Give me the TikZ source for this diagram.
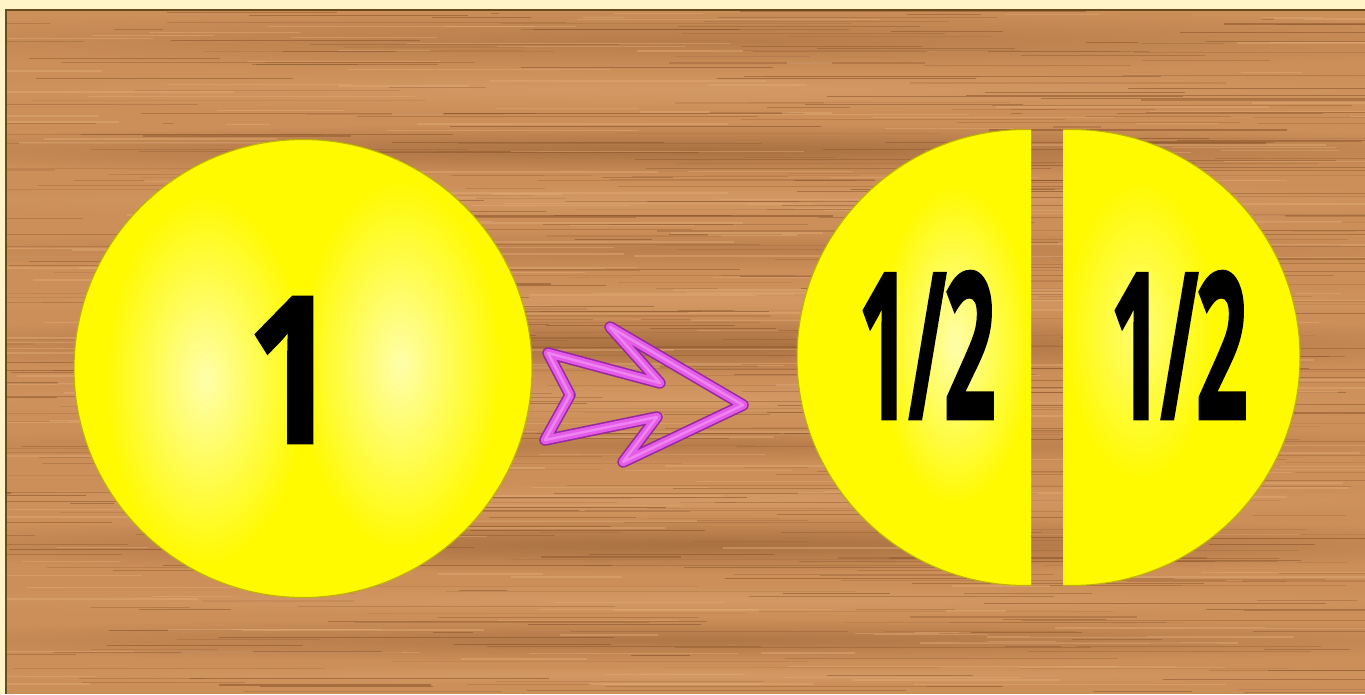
\documentclass[tikz,border=0pt]{standalone}
\usepackage{fontspec}
\setmainfont{Liberation Sans}
\newfontfamily\numfont[BoldFeatures={FakeBold=1.5}]{Open Sans}
\usetikzlibrary{fadings}
\definecolor{cream}{RGB}{255,243,200}
\definecolor{woodbase}{RGB}{204,143,90}
\definecolor{woodlight}{RGB}{226,172,120}
\definecolor{wooddark}{RGB}{135,82,40}
\definecolor{framedark}{RGB}{105,75,30}
\definecolor{disc}{RGB}{255,250,0}
\definecolor{discedge}{RGB}{190,180,0}
\definecolor{pale}{RGB}{255,255,170}
\definecolor{arrowpink}{RGB}{228,92,232}
\definecolor{arrowdark}{RGB}{150,40,160}
\definecolor{arrowlight}{RGB}{245,160,245}
\tikzfading[name=softblob, inner color=transparent!0, outer color=transparent!100]
\tikzset{
  discfill/.style={fill=disc, draw=discedge, line width=0.6pt},
  blob/.style={fill=pale, path fading=softblob},
  numtext/.style={inner sep=0pt, text=black, font=\numfont\bfseries\fontsize{116}{116}\selectfont},
}
\begin{document}
\begin{tikzpicture}[x=0.02cm, y=-0.02cm]
\useasboundingbox (0,0) rectangle (1365,694);
\fill[cream] (0,0) rectangle (1365,694);
% wood board
\begin{scope}
\clip (6,10) rectangle (1365,694);
\fill[woodbase] (6,10) rectangle (1365,694);
\foreach \yc/\hh/\op in {40/30/0.3, 150/26/0.5, 250/20/0.25, 345/30/0.5, 445/18/0.3, 545/28/0.5, 640/22/0.4}
  \fill[wooddark, opacity=\op, path fading=softblob] (-200,\yc-\hh) rectangle (1600,\yc+\hh);
\foreach \yc/\hh in {90/22, 200/18, 300/16, 400/22, 500/18, 600/16, 675/10}
  \fill[woodlight, opacity=0.35, path fading=softblob] (-200,\yc-\hh) rectangle (1600,\yc+\hh);
\pgfmathsetseed{7}
\foreach \i in {1,...,600} {
  \pgfmathsetmacro\yy{10+rnd*684}
  \pgfmathsetmacro\xa{-100+rnd*1400}
  \pgfmathsetmacro\len{40+rnd*380}
  \pgfmathsetmacro\op{0.12+rnd*0.45}
  \draw[wooddark, opacity=\op, line width=0.6pt] (\xa,\yy) -- ++(\len,0);
}
\foreach \i in {1,...,260} {
  \pgfmathsetmacro\yy{10+rnd*684}
  \pgfmathsetmacro\xa{-100+rnd*1400}
  \pgfmathsetmacro\len{40+rnd*300}
  \draw[woodlight, opacity=0.45, line width=0.8pt] (\xa,\yy) -- ++(\len,0);
}
\end{scope}
\draw[framedark, line width=1.2pt] (6,694) -- (6,10) -- (1365,10);

% whole disc
\node[circle, discfill, minimum size=9.16cm, inner sep=0pt] (whole) at (303,368.5) {};
\begin{scope}
\clip (303,368.5) circle[radius=4.56cm];
\fill[blob] (205,380) ellipse (100 and 185);
\fill[blob] (400,365) ellipse (100 and 185);
\end{scope}
\node[numtext, xscale=0.78] (one) at (292,370) {1};

% two halves
\begin{scope}
\clip (790,100) rectangle (1031,620);
\fill[discfill] (1025,357.5) circle[radius=4.56cm];
\clip (1025,357.5) circle[radius=4.56cm];
\fill[blob] (955,345) ellipse (75 and 160);
\end{scope}
\begin{scope}
\clip (1063,100) rectangle (1310,620);
\fill[discfill] (1072,357.5) circle[radius=4.56cm];
\clip (1072,357.5) circle[radius=4.56cm];
\fill[blob, opacity=0.7] (1140,330) ellipse (75 and 150);
\end{scope}
\node[numtext, xscale=0.45] (halfA) at (927,345) {1\kern-0.02em/\kern-0.03em2};
\node[numtext, xscale=0.45] (halfB) at (1179,345) {1\kern-0.02em/\kern-0.03em2};

% zigzag arrow
\coordinate (a1) at (548,353);
\coordinate (a2) at (660,383);
\coordinate (a3) at (610,327);
\coordinate (a4) at (743,405);
\coordinate (a5) at (623,462);
\coordinate (a6) at (657,417);
\coordinate (a7) at (545,440);
\coordinate (a8) at (570,395);
\draw[arrowdark, line width=6.6pt, line join=round] (a1) -- (a2) -- (a3) -- (a4) -- (a5) -- (a6) -- (a7) -- (a8) -- cycle;
\draw[arrowpink, line width=4.8pt, line join=round] (a1) -- (a2) -- (a3) -- (a4) -- (a5) -- (a6) -- (a7) -- (a8) -- cycle;
\draw[arrowlight, line width=1.4pt, line join=round, opacity=0.6] (a1) -- (a2) -- (a3) -- (a4) -- (a5) -- (a6) -- (a7) -- (a8) -- cycle;
\end{tikzpicture}
\end{document}
